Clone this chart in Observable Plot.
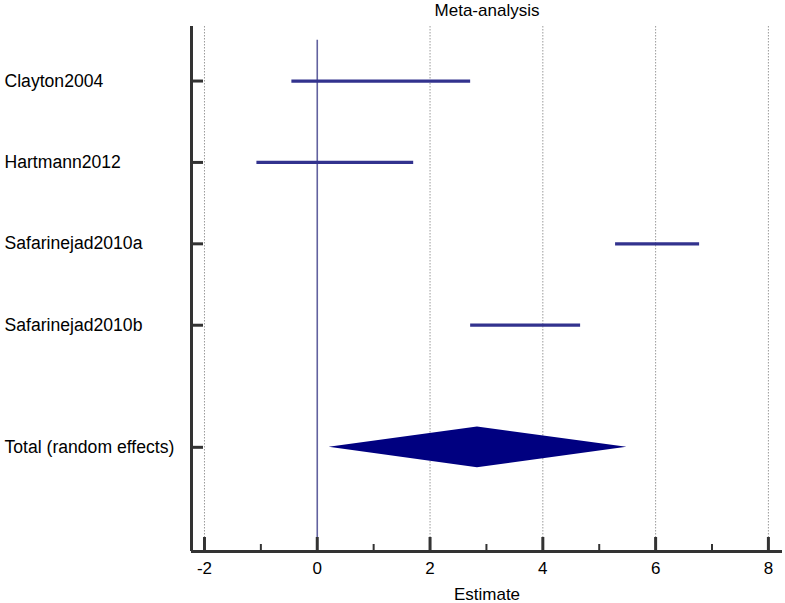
<!DOCTYPE html>
<html>
<head>
<meta charset="utf-8">
<script src="https://cdn.jsdelivr.net/npm/d3@7"></script>
<script src="https://cdn.jsdelivr.net/npm/@observablehq/plot@0.6"></script>
<style>
  html, body { margin: 0; padding: 0; background: #fff; }
  #chart svg { display: block; }
</style>
</head>
<body>
<div id="chart"></div>
<script>
// ---- data ----
const studies = ["Clayton2004", "Hartmann2012", "Safarinejad2010a", "Safarinejad2010b"];
const lower = [-0.45, -1.07, 5.29, 2.72];
const upper = [2.72, 1.71, 6.78, 4.67];
const totalLabel = "Total (random effects)";
const totalLower = 0.21;
const totalEstimate = 2.84;
const totalUpper = 5.49;
const majorTicks = [-2, 0, 2, 4, 6, 8];
const minorTicks = [-1, 1, 3, 5, 7];
const gridTicks = [-2, 2, 4, 6, 8];
const title = "Meta-analysis";
const xLabel = "Estimate";

// ---- build tables ----
const rows = studies.map((name, i) => ({name, pos: i + 1, lo: lower[i], hi: upper[i]}));
const totalPos = studies.length + 1.5;
const allRows = [...rows, {name: totalLabel, pos: totalPos}];
const halfH = 0.25;
const diamond = [
  {x: totalLower, y1: totalPos, y2: totalPos},
  {x: totalEstimate, y1: totalPos - halfH, y2: totalPos + halfH},
  {x: totalUpper, y1: totalPos, y2: totalPos}
];

const xDomain = [-2.23, 8.25];
const yDomain = [0.33, 6.78];
const axisColor = "#333";
const font = "'Liberation Sans', Arial, sans-serif";

const chart = Plot.plot({
  width: 785,
  height: 603,
  marginLeft: 191,
  marginRight: 3,
  marginTop: 26,
  marginBottom: 52,
  style: {fontFamily: font, background: "#fff", color: "#000", overflow: "visible"},
  x: {domain: xDomain, axis: null},
  y: {domain: yDomain, reverse: true, axis: null},
  marks: [
    Plot.gridX(gridTicks, {stroke: "#9a9a9a", strokeOpacity: 1, strokeWidth: 1, strokeDasharray: "1.5,1.5"}),
    Plot.ruleX([0], {y1: 0.5, y2: yDomain[1], stroke: "#62629f", strokeWidth: 1.6}),
    Plot.ruleY(rows, {y: "pos", x1: "lo", x2: "hi", stroke: "#32328e", strokeWidth: 3.2}),
    Plot.areaY(diamond, {x: "x", y1: "y1", y2: "y2", fill: "#000080"}),
    // axis lines
    Plot.ruleX([xDomain[0]], {stroke: axisColor, strokeWidth: 3}),
    Plot.ruleY([yDomain[1]], {stroke: axisColor, strokeWidth: 3}),
    // inward ticks
    Plot.axisX(majorTicks, {anchor: "bottom", tickSize: -14, stroke: axisColor, strokeWidth: 3, fill: "none", label: null}),
    Plot.axisX(minorTicks, {anchor: "bottom", tickSize: -7, stroke: axisColor, strokeWidth: 2, fill: "none", label: null}),
    Plot.axisX(majorTicks, {anchor: "bottom", tickSize: 0, tickPadding: 10, tickFormat: d => String(d), fontSize: 17, fill: "#000", label: null}),
    Plot.axisY(allRows.map(d => d.pos), {anchor: "left", tickSize: -12, stroke: axisColor, strokeWidth: 3, fill: "none", label: null}),
    // row labels
    Plot.text(allRows, {y: "pos", text: "name", frameAnchor: "left", textAnchor: "start", dx: -187, fontSize: 17.6, fill: "#000"}),
    // title and x label
    Plot.text([title], {text: d => d, frameAnchor: "top", lineAnchor: "bottom", dy: -11, fontSize: 17, fill: "#000"}),
    Plot.text([xLabel], {text: d => d, frameAnchor: "bottom", lineAnchor: "bottom", dy: 48, fontSize: 17, fill: "#000"})
  ]
});
document.getElementById("chart").appendChild(chart);
</script>
</body>
</html>
